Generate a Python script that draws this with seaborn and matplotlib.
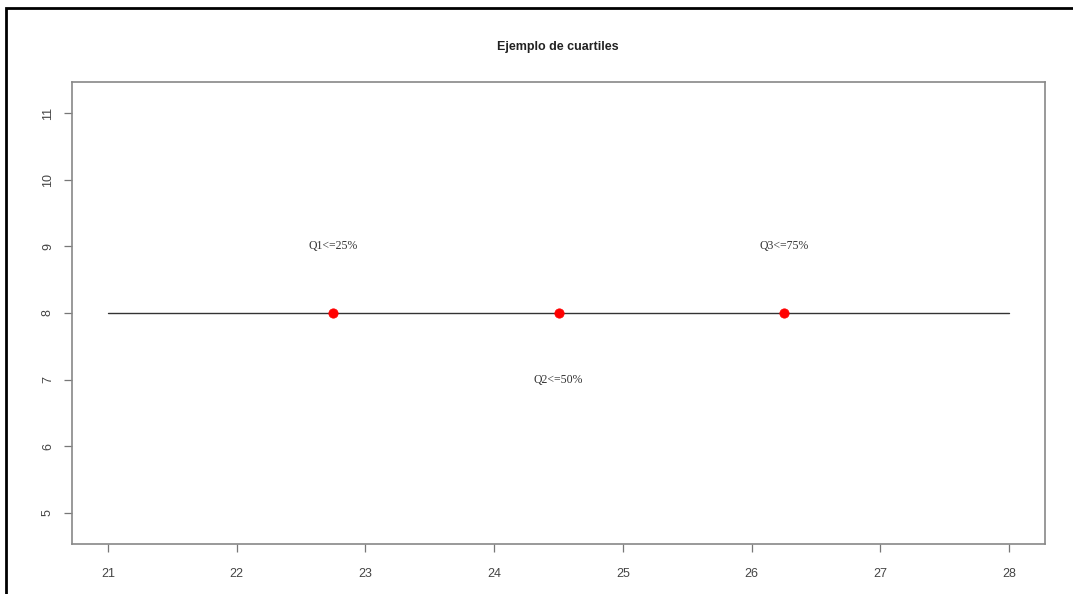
import matplotlib.pyplot as plt
import seaborn as sns
import pandas as pd
from matplotlib.patches import Rectangle

# data
line_x = [21, 28]
line_y = [8, 8]
quartile_x = [22.75, 24.5, 26.25]
quartile_y = [8, 8, 8]
label_text = ['Q1<=25%', 'Q2<=50%', 'Q3<=75%']
label_y = [9, 7, 9]
x_ticks = [21, 22, 23, 24, 25, 26, 27, 28]
y_ticks = [5, 6, 7, 8, 9, 10, 11]

sns.set_style('ticks')
plt.rcParams['font.family'] = ['Liberation Sans', 'DejaVu Sans']

fig = plt.figure(figsize=(10.73, 5.94), dpi=100)
W, H = 1073, 594
ax = fig.add_axes([72 / W, (H - 544) / H, (1045 - 72) / W, (544 - 82) / H])

line_df = pd.DataFrame({'x': line_x, 'y': line_y})
sns.lineplot(data=line_df, x='x', y='y', ax=ax, color='#333333', linewidth=1)
pts = pd.DataFrame({'x': quartile_x, 'y': quartile_y})
sns.scatterplot(data=pts, x='x', y='y', ax=ax, color='red', s=45, edgecolor='red', zorder=3)

for x, y, t in zip(quartile_x, label_y, label_text):
    ax.text(x, y, t, ha='center', va='center', fontsize=8.5,
            family='Liberation Serif', color='#333333')

ax.set_xlim(20.72, 28.28)
ax.set_ylim(4.53, 11.47)
ax.set_xticks(x_ticks)
ax.set_yticks(y_ticks)
ax.set_xlabel('')
ax.set_ylabel('')
ax.tick_params(axis='both', length=6, width=0.9, color='#777777',
               labelsize=9, labelcolor='#444444')
ax.tick_params(axis='x', pad=11)
ax.tick_params(axis='y', pad=7)
plt.setp(ax.get_yticklabels(), rotation=90, va='center')
for s in ax.spines.values():
    s.set_visible(True)
    s.set_color('#888888')
    s.set_linewidth(1.2)

fig.text(558 / W, 1 - 47 / H, 'Ejemplo de cuartiles', ha='center', va='center',
         fontsize=9, fontweight='bold', color='#222222')

# outer frame
fig.patches.append(Rectangle((6 / W, -0.1), 1.2, 1 - 8 / H + 0.1,
                             transform=fig.transFigure, fill=False,
                             edgecolor='black', linewidth=2))

fig.savefig('out.png', dpi=100)
